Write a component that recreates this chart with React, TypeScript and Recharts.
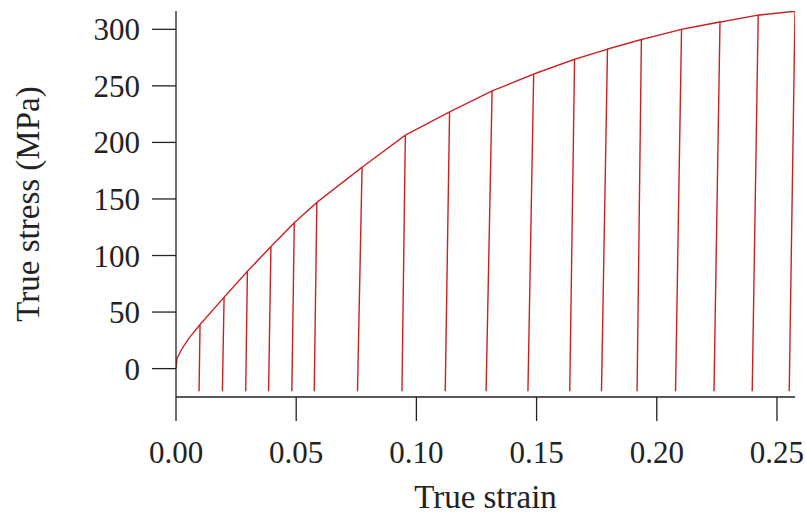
import { LineChart, Line, XAxis, YAxis } from 'recharts';

// initial loading segment before the first unloading cycle
const startStrain = [0, 0.0004, 0.0026, 0.0054];
const startStress = [0, 9, 18, 27];

// unloading cycles: peak on the envelope, then down to the valley and back up
const peakStrain = [
  0.0100, 0.0200, 0.0297, 0.0395, 0.0492, 0.0586, 0.0774, 0.0954, 0.1138,
  0.1315, 0.1488, 0.1658, 0.1795, 0.1936, 0.2103, 0.2263, 0.2422, 0.2575,
];
const peakStress = [
  39, 63, 86, 108, 129, 147, 178, 206.5, 227,
  245.5, 260.5, 273.5, 282.5, 291, 300, 306.5, 312.5, 316,
];
const valleyStrain = [
  0.0096, 0.0193, 0.0290, 0.0385, 0.0482, 0.0575, 0.0755, 0.0940, 0.1120,
  0.1290, 0.1464, 0.1638, 0.1770, 0.1918, 0.2078, 0.2238, 0.2397, 0.2551,
];
const valleyStress = -20;

const xTicks = [0, 0.05, 0.1, 0.15, 0.2, 0.25];
const yTicks = [0, 50, 100, 150, 200, 250, 300];

const data: { strain: number; stress: number }[] = [];
startStrain.forEach((s, i) => data.push({ strain: s, stress: startStress[i] }));
peakStrain.forEach((s, i) => {
  data.push({ strain: s, stress: peakStress[i] });
  data.push({ strain: valleyStrain[i], stress: valleyStress });
  if (i < peakStrain.length - 1) data.push({ strain: s, stress: peakStress[i] });
});

const serif = '"Liberation Serif", "Times New Roman", serif';
const tickFont = { fontFamily: serif, fontSize: 31, fill: '#222' };
const labelFont = { fontFamily: serif, fontSize: 33, fill: '#222' };
const axisStroke = { stroke: '#222', strokeWidth: 1.3 };

export default function App() {
  return (
    <div style={{ position: 'absolute', left: 0, top: 0, background: '#fff' }}>
      <LineChart width={806} height={517} data={data} margin={{ top: 11, right: 11, bottom: 0, left: 0 }}>
        <XAxis
          type="number"
          dataKey="strain"
          domain={[0, 0.2575]}
          allowDataOverflow
          ticks={xTicks}
          tickFormatter={(v: number) => v.toFixed(2)}
          tickSize={24}
          tickMargin={20}
          height={120}
          tick={tickFont}
          axisLine={axisStroke}
          tickLine={axisStroke}
          label={{ value: 'True strain', position: 'insideBottom', offset: 9, style: labelFont }}
        />
        <YAxis
          type="number"
          domain={[-25.1, 316.2]}
          allowDataOverflow
          ticks={yTicks}
          width={176}
          tickSize={24}
          tickMargin={12}
          tick={tickFont}
          axisLine={axisStroke}
          tickLine={axisStroke}
          label={{
            value: 'True stress (MPa)',
            angle: -90,
            position: 'insideLeft',
            offset: 27,
            style: { ...labelFont, textAnchor: 'middle' },
          }}
        />
        <Line
          type="linear"
          dataKey="stress"
          stroke="#cc2020"
          strokeWidth={1.4}
          dot={false}
          isAnimationActive={false}
        />
      </LineChart>
    </div>
  );
}
